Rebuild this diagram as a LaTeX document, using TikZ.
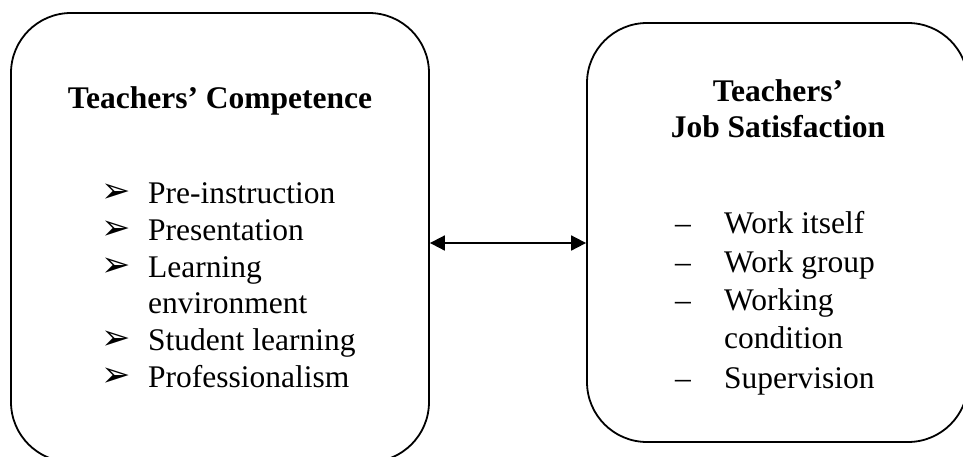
\documentclass[tikz,border=0pt]{standalone}
\usepackage{fontspec}
\setmainfont{Liberation Serif}
\newfontfamily\symfont{DejaVu Sans}
\usetikzlibrary{arrows.meta}
\begin{document}
\begin{tikzpicture}[x=1pt,y=-1pt,line join=round,line cap=round,font=\fontsize{31.5}{37}\selectfont,
	box/.style={draw,line width=1.8pt,rounded corners=60pt},
	item/.style={anchor=base west,inner sep=0pt},
	head/.style={anchor=base,inner sep=0pt,font=\fontsize{31.5}{37}\selectfont\bfseries},
	bul/.style={anchor=south west,inner sep=0pt,font=\symfont\fontsize{35}{35}\selectfont}]
	\useasboundingbox (0,0) rectangle (963,456);
	\begin{scope}
		\clip (0,0) rectangle (963,456);
		%Hộp năng lực giáo viên
		\node[box,minimum width=418pt,minimum height=449pt] (cmp) at (220,237.5) {};
		%Hộp sự hài lòng
		\node[box,minimum width=381pt,minimum height=419pt] (sat) at (777.5,232.5) {};
	\end{scope}
	%Tiêu đề
	\node[head] (cmpT) at (220,108) {Teachers’ Competence};
	\node[head] (satT1) at (778,101) {Teachers’};
	\node[head] (satT2) at (778,137) {Job Satisfaction};
	%Danh sách trái
	\foreach \y/\t [count=\i] in {203/Pre-instruction,240/Presentation,277/Learning,313/environment,350/Student learning,387/Professionalism}
		\node[item] (cl\i) at (148,\y) {\t};
	\foreach \y [count=\i] in {203,240,277,350,387}
		\node[bul] (cb\i) at (101,\y) {\raisebox{0pt}{➢}};
	%Danh sách phải
	\foreach \y/\t [count=\i] in {233/Work itself,272/Work group,310/Working,348/condition,388/Supervision}
		\node[item] (sl\i) at (724,\y) {\t};
	\foreach \y [count=\i] in {233,272,310,388}
		\node[item] (sb\i) at (675,\y) {–};
	%Mũi tên hai chiều
	\draw[line width=1.8pt,{Triangle[length=15pt,width=15pt]}-{Triangle[length=15pt,width=15pt]}] (cmp.east |- 0,243) -- (sat.west |- 0,243);
\end{tikzpicture}
\end{document}
